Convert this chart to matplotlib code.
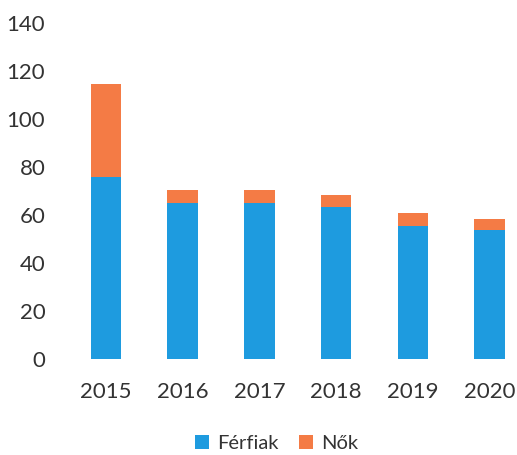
import matplotlib
matplotlib.use("Agg")
import matplotlib.pyplot as plt
import numpy as np

years = ["2015", "2016", "2017", "2018", "2019", "2020"]
ferfiak = [76, 65, 65, 63.5, 55.5, 54]
nok = [38.5, 5.5, 5.5, 5, 5.5, 4.5]

plt.rcParams['font.family'] = ['Lato', 'DejaVu Sans']

fig = plt.figure(figsize=(5.17, 4.55), dpi=100)
ax = fig.add_axes([0.1306, 0.2103, 0.8694, 0.7385])

x = np.arange(len(years))
blue = "#1E9BDF"
orange = "#F47B45"
ax.bar(x, ferfiak, width=0.4, color=blue, label="Férfiak")
ax.bar(x, nok, width=0.4, bottom=ferfiak, color=orange, label="Nők")

ax.set_ylim(0, 140)
ax.set_yticks(range(0, 141, 20))
ax.set_xlim(-0.5, 5.357)
ax.set_xticks(x)
ax.set_xticklabels(years)

for s in ax.spines.values():
    s.set_visible(False)
ax.tick_params(axis='both', length=0, labelsize=16, colors="#333333")
ax.tick_params(axis='y', pad=16)
ax.tick_params(axis='x', pad=16)

fig.legend(loc="center", bbox_to_anchor=(0.535, 0.026), ncol=2, frameon=False,
           fontsize=14.5, handlelength=0.7, handleheight=0.7, handletextpad=0.4,
           columnspacing=1.0, labelcolor="#333333")

fig.savefig("out.png", dpi=100)
